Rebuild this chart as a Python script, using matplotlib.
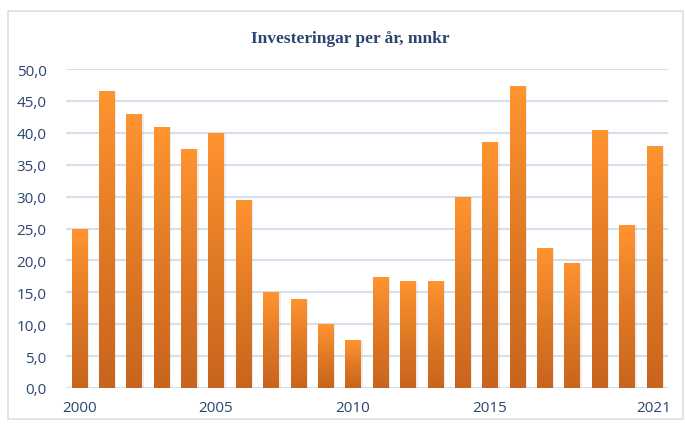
import numpy as np
import matplotlib.pyplot as plt
from matplotlib.colors import LinearSegmentedColormap
from matplotlib.patches import Rectangle

# data
years = list(range(2000, 2022))
values = [25.0, 46.6, 42.9, 40.9, 37.5, 40.0, 29.5, 15.0, 14.0, 10.0, 7.5,
          17.4, 16.8, 16.8, 29.9, 38.6, 47.3, 21.9, 19.6, 40.4, 25.5, 37.9]
shown_years = [2000, 2005, 2010, 2015, 2021]
yticks = [0, 5, 10, 15, 20, 25, 30, 35, 40, 45, 50]

txt_col = "#2B4470"
grid_col = "#D5E0EE"

fig = plt.figure(figsize=(6.85, 4.27), dpi=100)
# ram runt diagrammet
fig.patches.append(Rectangle((8 / 685, 7 / 427), 675 / 685, 408 / 427,
                             transform=fig.transFigure, fill=False,
                             edgecolor="#D6E1EF", linewidth=1.2))

ax = fig.add_axes([66 / 685, 1 - 389 / 427, 602 / 685, 319 / 427])
x = np.arange(len(years))

cmap = LinearSegmentedColormap.from_list("orange", ["#C9641E", "#E07A25", "#FF9430"])
grad = np.linspace(0, 1, 256).reshape(-1, 1)

# skugga
ax.bar(x + 0.06, values, width=0.6, color="#9E9E9E", alpha=0.18, zorder=2)
bars = ax.bar(x, values, width=0.55, color="none", zorder=3)
for b in bars:
    x0, y0 = b.get_x(), b.get_y()
    w, h = b.get_width(), b.get_height()
    im = ax.imshow(grad, cmap=cmap, origin="lower", aspect="auto",
                   extent=(x0, x0 + w, y0, y0 + h), zorder=3)
    im.set_clip_path(b)

ax.set_xlim(-0.48, 21.51)
ax.set_ylim(0, 50)
ax.set_yticks(yticks)
ax.set_yticklabels([f"{t:.1f}".replace(".", ",") for t in yticks])
ax.set_xticks([years.index(y) for y in shown_years])
ax.set_xticklabels([str(y) for y in shown_years])
ax.tick_params(length=0, labelsize=11, labelcolor=txt_col)
ax.tick_params(axis="y", pad=14)
ax.tick_params(axis="x", pad=9)
for lab in ax.get_xticklabels() + ax.get_yticklabels():
    lab.set_family("Open Sans")

ax.grid(axis="y", color=grid_col, linewidth=1.5, zorder=0)
ax.set_axisbelow(True)
for s in ax.spines.values():
    s.set_visible(False)

fig.text(0.511, 1 - 39 / 427, "Investeringar per år, mnkr", ha="center", va="center",
         fontsize=12.5, fontweight="bold", color=txt_col, family="Liberation Serif")

fig.savefig("out.png", dpi=100)
